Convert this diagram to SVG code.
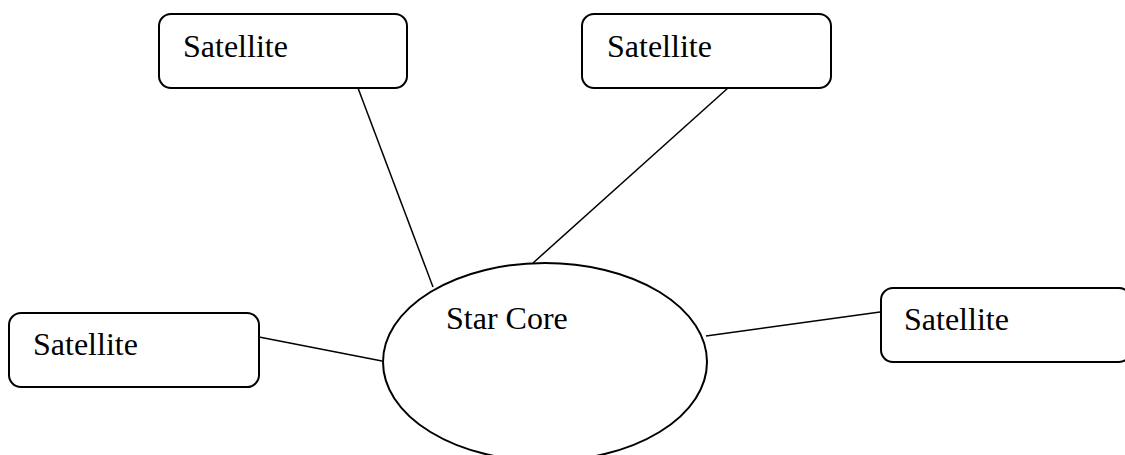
<svg xmlns="http://www.w3.org/2000/svg" width="1125" height="455" viewBox="0 0 1125 455">
<style>
.box{fill:#fff;stroke:#000;stroke-width:2}
.core{fill:#fff;stroke:#000;stroke-width:2}
.lbl{font-family:"Liberation Serif","Times New Roman",serif;font-size:32px;fill:#000}
.conn line{stroke:#000;stroke-width:1.5}
</style>
<rect width="1125" height="455" fill="#fff"/>
<g id="connectors" class="conn">
<line x1="358" y1="88" x2="433" y2="287"/>
<line x1="728" y1="88" x2="533" y2="263"/>
<line x1="259" y1="337" x2="382" y2="361"/>
<line x1="706" y1="336" x2="880" y2="312"/>
</g>
<g id="core">
<ellipse class="core" cx="545" cy="362" rx="162" ry="99"/>
<text class="lbl" x="446" y="329">Star Core</text>
</g>
<g id="sat1">
<rect class="box" x="159" y="14" width="248" height="74" rx="12"/>
<text class="lbl" x="183" y="57">Satellite</text>
</g>
<g id="sat2">
<rect class="box" x="582" y="14" width="249" height="74" rx="12"/>
<text class="lbl" x="607" y="57">Satellite</text>
</g>
<g id="sat3">
<rect class="box" x="9" y="313" width="250" height="74" rx="12"/>
<text class="lbl" x="33" y="355">Satellite</text>
</g>
<g id="sat4">
<rect class="box" x="881" y="288" width="250" height="74" rx="12"/>
<text class="lbl" x="904" y="330">Satellite</text>
</g>
</svg>
